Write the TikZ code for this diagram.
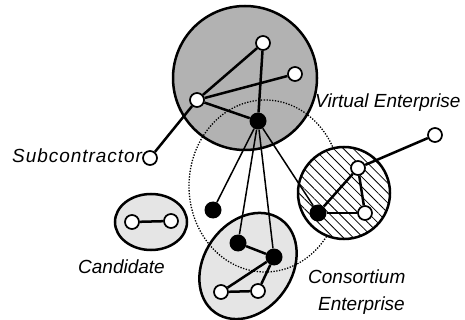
\documentclass[tikz,border=0pt]{standalone}
\usepackage{fontspec}
\setmainfont{Liberation Sans}
\usetikzlibrary{patterns.meta}
\begin{document}
\begin{tikzpicture}[x=1pt,y=-1pt,
  wn/.style={circle,draw,fill=white,line width=1.7pt,minimum size=14pt,inner sep=0},
  bn/.style={circle,fill=black,minimum size=17pt,inner sep=0},
  edge/.style={line width=2.5pt},
  fan/.style={line width=1.5pt},
  region/.style={line width=2.5pt},
  dotline/.style={line width=1.3pt,dash pattern=on 1.3pt off 1.5pt},
  lbl/.style={font=\fontsize{19}{22}\selectfont\itshape,anchor=base west,inner sep=0}]
\useasboundingbox (0,0) rectangle (465,320);
% regions
\draw[region,fill=black!30] (245,78) circle[radius=72];
\draw[region,fill=black!10] (151,222) ellipse[x radius=36,y radius=28];
\draw[region,fill=black!10,rotate around={55:(248,266)}] (248,266) ellipse[x radius=57,y radius=44];
\draw[dotline] (265,186) ellipse[x radius=76,y radius=86];
\draw[region,fill=white] (344,193) circle[radius=46];
\fill[pattern={Lines[angle=-45,distance=7pt,line width=0.8pt]}] (344,193) circle[radius=45];
% nodes
\node[wn] (A) at (197,100) {};
\node[wn] (B) at (263,43) {};
\node[wn] (C) at (295,74) {};
\node[bn] (K) at (258,121) {};
\node[wn] (S) at (150,158) {};
\node[wn] (c1) at (132,222) {};
\node[wn] (c2) at (171,221) {};
\node[bn] (L) at (213,210) {};
\node[bn] (b1) at (238,243) {};
\node[bn] (b2) at (274,257) {};
\node[wn] (w1) at (221,292) {};
\node[wn] (w2) at (258,291) {};
\node[bn] (hb) at (318,213) {};
\node[wn] (ht) at (358,168) {};
\node[wn] (hw) at (365,213) {};
\node[wn] (ho) at (435,135) {};
% edges
\draw[edge] (A) -- (B);
\draw[edge] (A) -- (C);
\draw[edge] (A) -- (K);
\draw[edge] (B) -- (K);
\draw[edge] (A) -- (S);
\draw[edge] (c1) -- (c2);
\draw[edge] (b1) -- (b2);
\draw[edge] (b2) -- (w1);
\draw[edge] (b2) -- (w2);
\draw[edge] (w1) -- (w2);
\draw[edge] (hb) -- (ht);
\draw[edge] (hb) -- (hw);
\draw[edge] (ht) -- (hw);
\draw[edge] (ht) -- (ho);
\draw[fan] (K) -- (L);
\draw[fan] (K) -- (b1);
\draw[fan] (K) -- (b2);
\draw[fan] (K) -- (hb);
% labels
\node[lbl] (tsub) at (12,163) {\addfontfeature{LetterSpace=5}Subcontractor};
\node[lbl] (tve) at (315,108) {Virtual Enterprise};
\node[lbl] (tcand) at (78,273) {Candidate};
\node[lbl] (tcons) at (308,283) {Consortium};
\node[lbl] (tent) at (318,310) {Enterprise};
\end{tikzpicture}
\end{document}
